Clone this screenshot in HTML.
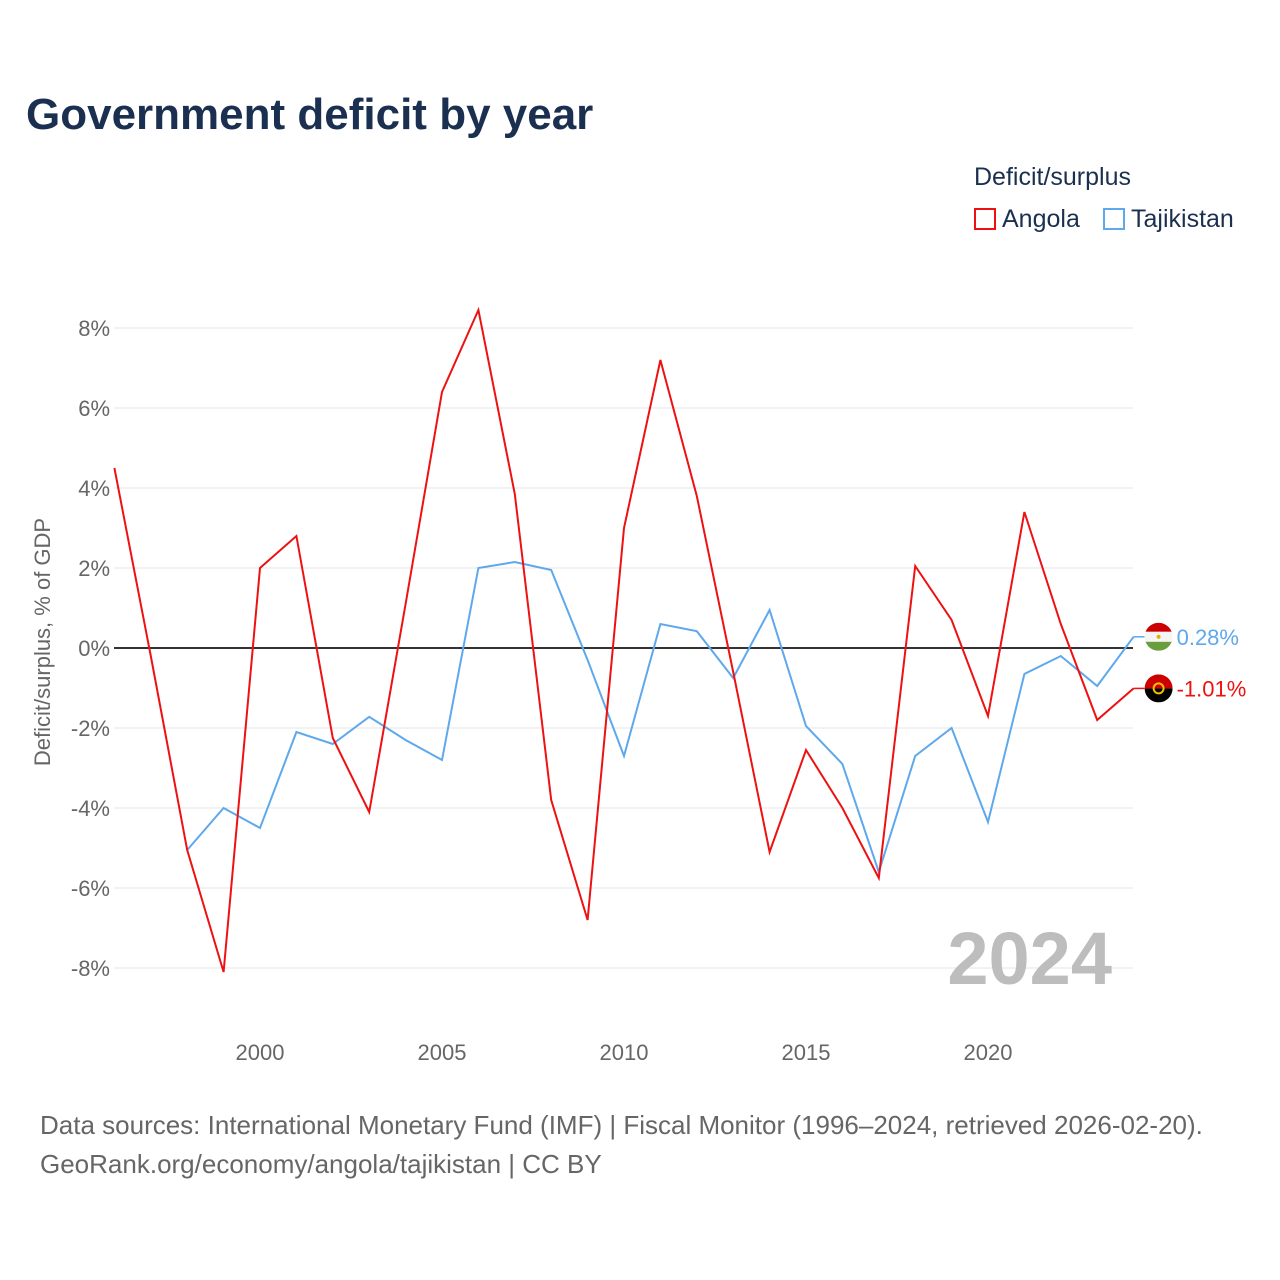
<!DOCTYPE html>
<html><head><meta charset="utf-8">
<style>
body{margin:0;background:#fff;font-family:"Liberation Sans",sans-serif;}
#wrap{position:relative;width:1280px;height:1280px;overflow:hidden;}
.t{position:absolute;white-space:nowrap;}
</style></head>
<body>
<div id="wrap">
<div class="t" style="left:26px;top:90px;font-size:44px;font-weight:bold;color:#1b3050;">Government deficit by year</div>
<div class="t" style="left:974px;top:163px;font-size:25px;color:#1b3050;">Deficit/surplus</div>
<div class="t" style="left:974px;top:205px;font-size:25px;color:#1b3050;"><span style="display:inline-block;width:22px;height:22px;border:2px solid #ee1111;box-sizing:border-box;vertical-align:-3px;margin-right:6px;"></span>Angola</div>
<div class="t" style="left:1103px;top:205px;font-size:25px;color:#1b3050;"><span style="display:inline-block;width:22px;height:22px;border:2px solid #5ea8ec;box-sizing:border-box;vertical-align:-3px;margin-right:6px;"></span>Tajikistan</div>
<div class="t" style="left:40px;top:1106px;font-size:26px;color:#666;line-height:39px;">Data sources: International Monetary Fund (IMF) | Fiscal Monitor (1996–2024, retrieved 2026-02-20).<br>GeoRank.org/economy/angola/tajikistan | CC BY</div>
<svg id="chart" width="1280" height="1280" style="position:absolute;left:0;top:0"></svg>
</div>
<script>
const years=[1996,1997,1998,1999,2000,2001,2002,2003,2004,2005,2006,2007,2008,2009,2010,2011,2012,2013,2014,2015,2016,2017,2018,2019,2020,2021,2022,2023,2024];
const angola=[4.5,-0.2,-5.05,-8.1,2.0,2.8,-2.25,-4.1,1.1,6.4,8.45,3.85,-3.8,-6.8,3.0,7.2,3.8,-0.6,-5.1,-2.55,-4.0,-5.75,2.05,0.7,-1.7,3.4,0.6,-1.8,-1.01];
const tajYears=[1998,1999,2000,2001,2002,2003,2004,2005,2006,2007,2008,2009,2010,2011,2012,2013,2014,2015,2016,2017,2018,2019,2020,2021,2022,2023,2024];
const tajikistan=[-5.05,-4.0,-4.5,-2.1,-2.4,-1.72,-2.3,-2.8,2.0,2.15,1.95,-0.3,-2.7,0.6,0.42,-0.75,0.95,-1.95,-2.9,-5.6,-2.7,-2.0,-4.35,-0.65,-0.2,-0.95,0.28];
const yTicks=[-8,-6,-4,-2,0,2,4,6,8];
const yTickLabels=["-8%","-6%","-4%","-2%","0%","2%","4%","6%","8%"];
const xTicks=[2000,2005,2010,2015,2020];
const xTickLabels=["2000","2005","2010","2015","2020"];

const NS="http://www.w3.org/2000/svg";
const svg=document.getElementById('chart');
const x=v=>114.4+(v-1996)*36.4;
const y=v=>648-v*40;
function mk(tag,attrs,parent){const e=document.createElementNS(NS,tag);for(const k in attrs)e.setAttribute(k,attrs[k]);(parent||svg).appendChild(e);return e;}

yTicks.forEach((t,i)=>{
  const g=mk('line',{x1:114,x2:1133,y1:y(t),y2:y(t),stroke:t===0?'#333':'#e6e6e6','stroke-width':t===0?2:1});
  
  
  const tx=mk('text',{x:110,y:y(t)+8,'text-anchor':'end','font-size':22,fill:'#666','font-family':'Liberation Sans, sans-serif'});
  tx.textContent=yTickLabels[i];
  
  
});
xTicks.forEach((t,i)=>{
  const tx=mk('text',{x:x(t),y:1060,'text-anchor':'middle','font-size':22,fill:'#666','font-family':'Liberation Sans, sans-serif'});
  tx.textContent=xTickLabels[i];
  
  
});
const yt=mk('text',{x:0,y:0,transform:'translate(50,642) rotate(-90)','text-anchor':'middle','font-size':22,fill:'#666','font-family':'Liberation Sans, sans-serif'});
yt.textContent='Deficit/surplus, % of GDP';



const yr=mk('text',{x:1112,y:984,'text-anchor':'end','font-size':74,'font-weight':'bold',fill:'#bdbdbd','font-family':'Liberation Sans, sans-serif'});
yr.textContent='2024';



function line(xs,vs,color,name){
  const p=mk('polyline',{points:xs.map((t,i)=>x(t)+','+y(vs[i])).join(' '),fill:'none',stroke:color,'stroke-width':2,'stroke-linejoin':'miter'});
  
  
}
line(tajYears,tajikistan,'#5ea8ec','tajikistan-line');
line(years,angola,'#ee1111','angola-line');

function endMarker(val,color,label,name,flag){
  const cx=x(2024)+25, cy=y(val);
  const l=mk('line',{x1:x(2024),x2:cx-14,y1:cy,y2:cy,stroke:color,'stroke-width':1.5});
  
  
  const g=mk('g',{});
  
  
  const cp=mk('clipPath',{id:'c'+name},g);
  mk('circle',{cx:cx,cy:cy,r:14},cp);
  const fg=mk('g',{'clip-path':'url(#c'+name+')'},g);
  flag(fg,cx,cy);
  const t=mk('text',{x:cx+18,y:cy+8,'font-size':22,fill:color,'font-family':'Liberation Sans, sans-serif'});
  t.textContent=label;
  
  
}
endMarker(tajikistan[tajikistan.length-1],'#5ea8ec','0.28%','tajikistan',(g,cx,cy)=>{
  mk('rect',{x:cx-14,y:cy-14,width:28,height:9,fill:'#cc0000'},g);
  mk('rect',{x:cx-14,y:cy-5,width:28,height:10,fill:'#f5f5f5'},g);
  mk('rect',{x:cx-14,y:cy+5,width:28,height:9,fill:'#6a9e3a'},g);
  mk('circle',{cx:cx,cy:cy,r:2,fill:'#e0b000'},g);
});
endMarker(angola[angola.length-1],'#ee1111','-1.01%','angola',(g,cx,cy)=>{
  mk('rect',{x:cx-14,y:cy-14,width:28,height:14,fill:'#cc0000'},g);
  mk('rect',{x:cx-14,y:cy,width:28,height:14,fill:'#000'},g);
  mk('circle',{cx:cx,cy:cy,r:5,fill:'none',stroke:'#f0c000','stroke-width':2},g);
});
</script>
</body></html>
